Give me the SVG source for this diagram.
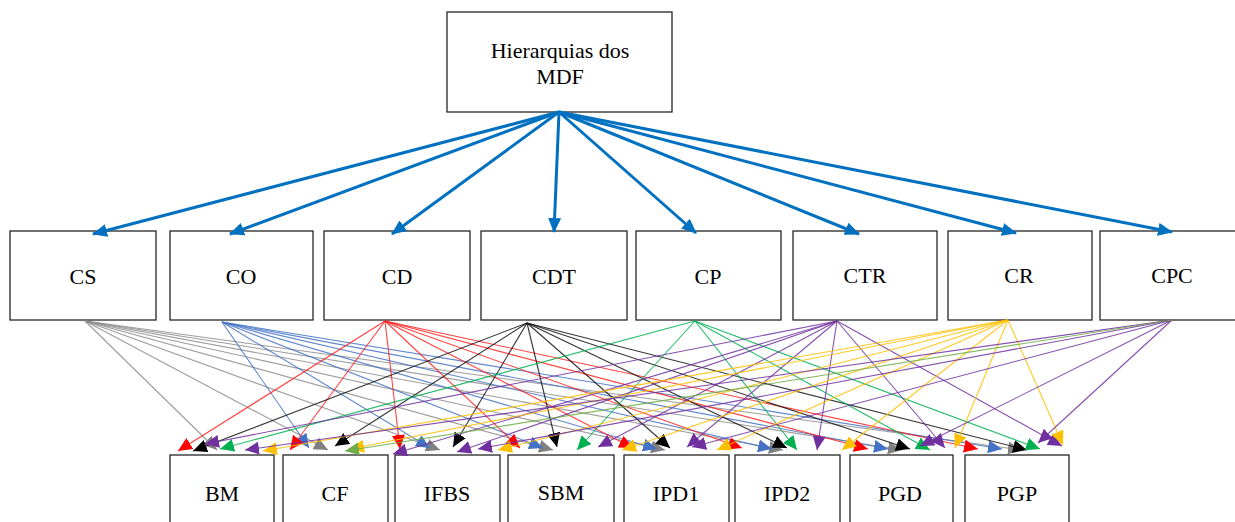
<svg xmlns="http://www.w3.org/2000/svg" width="1235" height="522" viewBox="0 0 1235 522">
  <style>
    .box { fill: #ffffff; stroke: #262626; stroke-width: 1.3; }
    .lbl { font-family: "Liberation Serif", "Times New Roman", serif; font-size: 22px; fill: #000; text-anchor: middle; }
    .main { stroke: #0070C0; stroke-width: 3; fill: none; marker-end: url(#ah-main); }
    .sub { fill: none; stroke-width: 1.1; stroke-opacity: 0.85; }
    .gray { stroke: #8c8c8c; marker-end: url(#ah-gray); }
    .blue { stroke: #4472C4; marker-end: url(#ah-blue); }
    .red { stroke: #FF2020; marker-end: url(#ah-red); }
    .black { stroke: #111111; marker-end: url(#ah-black); }
    .green { stroke: #00B050; marker-end: url(#ah-green); }
    .lgreen { stroke: #70AD47; marker-end: url(#ah-lgreen); }
    .purple { stroke: #7030A0; marker-end: url(#ah-purple); }
    .yellow { stroke: #FFC000; marker-end: url(#ah-yellow); }
  </style>
  <defs>
    <marker id="ah-main" viewBox="0 0 15 13" refX="14" refY="6.5" markerWidth="15" markerHeight="13" markerUnits="userSpaceOnUse" orient="auto"><path d="M0,0 L15,6.5 L0,13 z" fill="#0070C0"/></marker>
    <marker id="ah-gray" viewBox="0 0 14 13" refX="14" refY="6.5" markerWidth="14" markerHeight="13" markerUnits="userSpaceOnUse" orient="auto"><path d="M0,0 L14,6.5 L0,13 z" fill="#808080"/></marker>
    <marker id="ah-blue" viewBox="0 0 14 13" refX="14" refY="6.5" markerWidth="14" markerHeight="13" markerUnits="userSpaceOnUse" orient="auto"><path d="M0,0 L14,6.5 L0,13 z" fill="#4472C4"/></marker>
    <marker id="ah-red" viewBox="0 0 14 13" refX="14" refY="6.5" markerWidth="14" markerHeight="13" markerUnits="userSpaceOnUse" orient="auto"><path d="M0,0 L14,6.5 L0,13 z" fill="#FF0000"/></marker>
    <marker id="ah-black" viewBox="0 0 14 13" refX="14" refY="6.5" markerWidth="14" markerHeight="13" markerUnits="userSpaceOnUse" orient="auto"><path d="M0,0 L14,6.5 L0,13 z" fill="#000000"/></marker>
    <marker id="ah-green" viewBox="0 0 14 13" refX="14" refY="6.5" markerWidth="14" markerHeight="13" markerUnits="userSpaceOnUse" orient="auto"><path d="M0,0 L14,6.5 L0,13 z" fill="#00B050"/></marker>
    <marker id="ah-lgreen" viewBox="0 0 14 13" refX="14" refY="6.5" markerWidth="14" markerHeight="13" markerUnits="userSpaceOnUse" orient="auto"><path d="M0,0 L14,6.5 L0,13 z" fill="#70AD47"/></marker>
    <marker id="ah-purple" viewBox="0 0 14 13" refX="14" refY="6.5" markerWidth="14" markerHeight="13" markerUnits="userSpaceOnUse" orient="auto"><path d="M0,0 L14,6.5 L0,13 z" fill="#7030A0"/></marker>
    <marker id="ah-yellow" viewBox="0 0 14 13" refX="14" refY="6.5" markerWidth="14" markerHeight="13" markerUnits="userSpaceOnUse" orient="auto"><path d="M0,0 L14,6.5 L0,13 z" fill="#FFC000"/></marker>
  </defs>

  <rect width="1235" height="522" fill="#ffffff"/>

  <!-- root -->
  <g id="node-mdf">
    <rect class="box" x="447" y="12" width="225" height="100"/>
    <text class="lbl" x="560" y="58">Hierarquias dos</text>
    <text class="lbl" x="560" y="84">MDF</text>
  </g>

  <!-- categories -->
  <g id="node-cs"><rect class="box" x="10" y="231" width="146" height="89"/><text class="lbl" x="83" y="284">CS</text></g>
  <g id="node-co"><rect class="box" x="170" y="231" width="143" height="89"/><text class="lbl" x="241" y="284">CO</text></g>
  <g id="node-cd"><rect class="box" x="324" y="231" width="146" height="89"/><text class="lbl" x="397" y="284">CD</text></g>
  <g id="node-cdt"><rect class="box" x="481" y="231" width="146" height="89"/><text class="lbl" x="554" y="284">CDT</text></g>
  <g id="node-cp"><rect class="box" x="636" y="231" width="145" height="89"/><text class="lbl" x="708" y="284">CP</text></g>
  <g id="node-ctr"><rect class="box" x="793" y="231" width="144" height="89"/><text class="lbl" x="865" y="283">CTR</text></g>
  <g id="node-cr"><rect class="box" x="948" y="231" width="144" height="89"/><text class="lbl" x="1019" y="283">CR</text></g>
  <g id="node-cpc"><rect class="box" x="1100" y="231" width="150" height="89"/><text class="lbl" x="1172" y="283">CPC</text></g>

  <!-- indicators -->
  <g id="node-bm"><rect class="box" x="170" y="455" width="104" height="80"/><text class="lbl" x="222" y="501">BM</text></g>
  <g id="node-cf"><rect class="box" x="283" y="455" width="105" height="80"/><text class="lbl" x="335" y="501">CF</text></g>
  <g id="node-ifbs"><rect class="box" x="395" y="455" width="105" height="80"/><text class="lbl" x="447" y="501">IFBS</text></g>
  <g id="node-sbm"><rect class="box" x="508" y="455" width="106" height="80"/><text class="lbl" x="561" y="500">SBM</text></g>
  <g id="node-ipd1"><rect class="box" x="624" y="455" width="105" height="80"/><text class="lbl" x="676" y="501">IPD1</text></g>
  <g id="node-ipd2"><rect class="box" x="735" y="455" width="105" height="80"/><text class="lbl" x="787" y="501">IPD2</text></g>
  <g id="node-pgd"><rect class="box" x="850" y="455" width="103" height="80"/><text class="lbl" x="900" y="501">PGD</text></g>
  <g id="node-pgp"><rect class="box" x="965" y="455" width="104" height="80"/><text class="lbl" x="1017" y="501">PGP</text></g>

  <g id="connectors">
    <!-- root to categories -->
    <line class="main" x1="559" y1="112" x2="93" y2="234"/>
    <line class="main" x1="559" y1="112" x2="230" y2="234"/>
    <line class="main" x1="559" y1="112" x2="392" y2="234"/>
    <line class="main" x1="559" y1="112" x2="554" y2="232"/>
    <line class="main" x1="559" y1="112" x2="696" y2="233"/>
    <line class="main" x1="559" y1="112" x2="859" y2="234"/>
    <line class="main" x1="559" y1="112" x2="1016" y2="233"/>
    <line class="main" x1="559" y1="112" x2="1172" y2="232"/>

    <!-- CS -->
    <g class="sub gray">
      <line x1="85" y1="321" x2="217" y2="450"/>
      <line x1="85" y1="321" x2="328" y2="450"/>
      <line x1="85" y1="321" x2="440" y2="450"/>
      <line x1="85" y1="321" x2="553" y2="450"/>
      <line x1="85" y1="321" x2="665" y2="450"/>
      <line x1="85" y1="321" x2="783" y2="450"/>
      <line x1="85" y1="321" x2="902" y2="450"/>
      <line x1="85" y1="321" x2="1022" y2="450"/>
    </g>
    <!-- CO -->
    <g class="sub blue">
      <line x1="222" y1="322" x2="309" y2="448"/>
      <line x1="222" y1="322" x2="430" y2="448"/>
      <line x1="222" y1="322" x2="543" y2="448"/>
      <line x1="222" y1="322" x2="657" y2="449"/>
      <line x1="222" y1="322" x2="772" y2="449"/>
      <line x1="222" y1="322" x2="888" y2="449"/>
      <line x1="222" y1="322" x2="1002" y2="449"/>
    </g>
    <!-- CD -->
    <g class="sub red">
      <line x1="385" y1="321" x2="178" y2="451"/>
      <line x1="385" y1="321" x2="290" y2="450"/>
      <line x1="385" y1="321" x2="400" y2="449"/>
      <line x1="385" y1="321" x2="520" y2="448"/>
      <line x1="385" y1="321" x2="633" y2="448"/>
      <line x1="385" y1="321" x2="742" y2="448"/>
      <line x1="385" y1="321" x2="868" y2="449"/>
      <line x1="385" y1="321" x2="978" y2="449"/>
    </g>
    <!-- CDT -->
    <g class="sub black">
      <line x1="527" y1="323" x2="193" y2="451"/>
      <line x1="527" y1="323" x2="335" y2="446"/>
      <line x1="527" y1="323" x2="453" y2="447"/>
      <line x1="527" y1="323" x2="557" y2="447"/>
      <line x1="527" y1="323" x2="670" y2="448"/>
      <line x1="527" y1="323" x2="787" y2="448"/>
      <line x1="527" y1="323" x2="910" y2="449"/>
      <line x1="527" y1="323" x2="1027" y2="450"/>
    </g>
    <!-- CP -->
    <g class="sub green">
      <line x1="695" y1="321" x2="220" y2="449"/>
      <line x1="695" y1="321" x2="577" y2="450"/>
      <line x1="695" y1="321" x2="797" y2="450"/>
      <line x1="695" y1="321" x2="930" y2="450"/>
      <line x1="695" y1="321" x2="1040" y2="449"/>
    </g>
    <!-- CTR -->
    <g class="sub purple">
      <line x1="837" y1="321" x2="205" y2="444"/>
      <line x1="837" y1="321" x2="393" y2="454"/>
      <line x1="837" y1="321" x2="457" y2="452"/>
      <line x1="837" y1="321" x2="598" y2="447"/>
      <line x1="837" y1="321" x2="687" y2="447"/>
      <line x1="837" y1="321" x2="817" y2="450"/>
      <line x1="837" y1="321" x2="945" y2="448"/>
      <line x1="837" y1="321" x2="1062" y2="446"/>
    </g>
    <!-- CR -->
    <g class="sub yellow">
      <line x1="1008" y1="320" x2="263" y2="451"/>
      <line x1="1008" y1="320" x2="350" y2="449"/>
      <line x1="1008" y1="320" x2="498" y2="450"/>
      <line x1="1008" y1="320" x2="622" y2="450"/>
      <line x1="1008" y1="320" x2="717" y2="450"/>
      <line x1="1008" y1="320" x2="842" y2="450"/>
      <line x1="1008" y1="320" x2="955" y2="448"/>
      <line x1="1008" y1="320" x2="1063" y2="445"/>
    </g>
    <!-- CPC -->
    <g class="sub purple">
      <line x1="1172" y1="320" x2="245" y2="450"/>
      <line x1="1172" y1="320" x2="478" y2="449"/>
      <line x1="1172" y1="320" x2="692" y2="447"/>
      <line x1="1172" y1="320" x2="920" y2="446"/>
      <line x1="1172" y1="320" x2="1038" y2="443"/>
    </g>
    <g class="sub lgreen">
      <line x1="1172" y1="320" x2="345" y2="451"/>
    </g>
  </g>
</svg>
